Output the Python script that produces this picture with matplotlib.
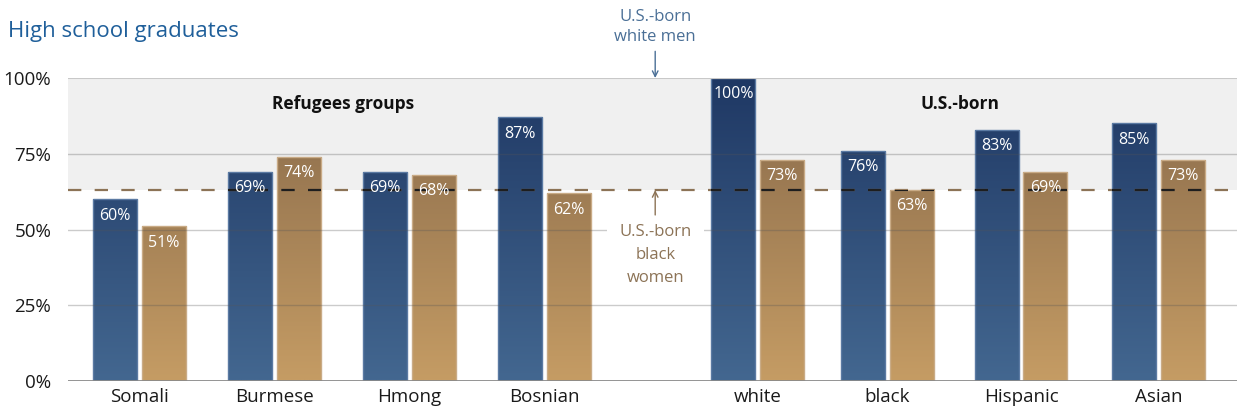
import numpy as np
import matplotlib
matplotlib.use("Agg")
import matplotlib.pyplot as plt
from matplotlib.colors import LinearSegmentedColormap

plt.rcParams['font.family'] = ['Open Sans', 'DejaVu Sans']

# ---- data ----
categories = ["Somali", "Burmese", "Hmong", "Bosnian", "white", "black", "Hispanic", "Asian"]
men = [60, 69, 69, 87, 100, 76, 83, 85]
women = [51, 74, 68, 62, 73, 63, 69, 73]
ref_black_women = 63
ref_white_men = 100
yticks = [0, 25, 50, 75, 100]
ytick_labels = ["0%", "25%", "50%", "75%", "100%"]

# ---- layout ----
group_pos = np.array([0, 1, 2, 3, 4.58, 5.54, 6.53, 7.55])
bw = 0.326
off = 0.181

fig = plt.figure(figsize=(12.45, 4.18), dpi=100)
ax = fig.add_axes([68/1245, 1-381/418, (1237-68)/1245, (381-78)/418])

ax.axhspan(ref_black_women, 100, color="#f0f0f0", zorder=0, lw=0)

blue_cmap = LinearSegmentedColormap.from_list("b", ["#436790", "#1f3864"])
brown_cmap = LinearSegmentedColormap.from_list("br", ["#c59c64", "#87694a"])

dash = (0, (6, 6))

def draw(xs, vals, cmap, edge):
    bars = ax.bar(xs, vals, bw, color="none", edgecolor=edge, lw=1.0, zorder=2)
    for p, v in zip(bars.patches, vals):
        x0 = p.get_x(); x1 = x0 + p.get_width()
        grad = np.linspace(v, 0, 200).reshape(-1, 1)
        im = ax.imshow(grad, extent=[x0, x1, 0, v], aspect="auto", cmap=cmap,
                       vmin=0, vmax=100, zorder=1, interpolation="bilinear")
        im.set_clip_path(p)
        ln = ax.axhline(ref_black_women, color="#1e1e1e", lw=1.6, linestyle=dash, zorder=4)
        ln.set_clip_path(p)
        ax.text(p.get_x() + p.get_width()/2, v - 5.4, f"{v}%", ha="center", va="center",
                color="white", fontsize=11.5, zorder=6)
    return bars

draw(group_pos - off, men, blue_cmap, "#5b7aa3")
draw(group_pos + off, women, brown_cmap, "#c9ab86")

# reference dashed line
ax.axhline(ref_black_women, color="#8c7356", lw=1.6, linestyle=dash, zorder=1.5)

# gridlines on top
for t in [25, 50, 75]:
    ax.axhline(t, color="#555555", alpha=0.3, lw=1, zorder=3)
ax.axhline(100, color="#c8c8c8", lw=1.5, zorder=3)
ax.axhline(0, color="#8a8a8a", lw=2, zorder=5)

ax.set_xlim(-0.53, 8.13)
ax.set_ylim(0, 100)
for s in ax.spines.values():
    s.set_visible(False)
ax.set_yticks(yticks)
ax.set_yticklabels(ytick_labels, fontsize=13.5, color="#1a1a1a")
ax.set_xticks(group_pos)
ax.set_xticklabels(categories, fontsize=13.5, color="#1a1a1a")
ax.tick_params(length=0)
ax.tick_params(axis="y", pad=12)
ax.tick_params(axis="x", pad=5)

# group headers
ax.text(1.507, 91.5, "Refugees groups", ha="center", va="center", fontsize=12.5,
        fontweight="bold", color="#111111", zorder=6)
ax.text(6.08, 91.5, "U.S.-born", ha="center", va="center", fontsize=12.5,
        fontweight="bold", color="#111111", zorder=6)

# annotations
ax.annotate("", xy=(3.82, ref_white_men), xytext=(3.82, 108.8), annotation_clip=False,
            arrowprops=dict(arrowstyle="->", color="#4a6f96", lw=1, shrinkA=0, shrinkB=0))
ax.text(3.82, 111.0, "U.S.-born\nwhite men", ha="center", va="bottom", fontsize=12,
        color="#4a6f96", linespacing=1.3, clip_on=False)
ax.annotate("", xy=(3.82, ref_black_women), xytext=(3.82, 54.8),
            arrowprops=dict(arrowstyle="->", color="#8c7356", lw=1, shrinkA=0, shrinkB=0))
ax.text(3.82, 51.8, "U.S.-born\nblack\nwomen", ha="center", va="top", fontsize=12,
        color="#8c7356", linespacing=1.6, zorder=4,
        bbox=dict(boxstyle="square,pad=0.1", fc="white", ec="none"))
# white gap in the 50% gridline around the note
ax.plot([3.82 - 0.36, 3.82 + 0.36], [50, 50], color="white", lw=3, zorder=3.5,
        solid_capstyle="butt")

fig.text(8/1245, 1-31/418, "High school graduates", fontsize=16, color="#1f5f9a",
         ha="left", va="center")

fig.savefig("out.png", dpi=100)
